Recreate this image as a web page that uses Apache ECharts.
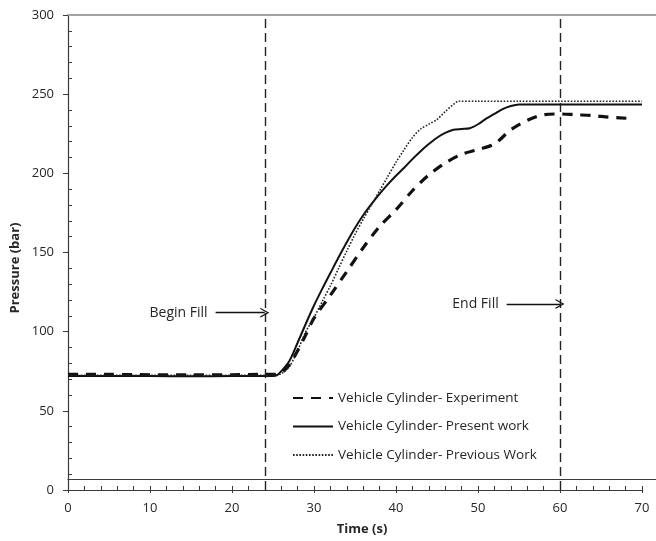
<!DOCTYPE html>
<html>
<head>
<meta charset="utf-8">
<script src="https://cdn.jsdelivr.net/npm/echarts@6/dist/echarts.min.js"></script>
<style>html,body{margin:0;padding:0;background:#fff}#c{width:656px;height:541px}</style>
</head>
<body>
<div id="c"></div>
<script>
// ---- data ----
const seriesNames = ['Vehicle Cylinder- Experiment', 'Vehicle Cylinder- Present work', 'Vehicle Cylinder- Previous Work'];
const expTime = [0,5,10,15,20,24,25,26,27,28,29,30,32,34,36,38,40,42,44,46,48,50,52,54,56,58,60,62,64,66,69];
const expPressure = [73,73,72.8,72.8,72.8,73,73,74,79,88,98,108.5,123,138,153,166.5,177,189,199,206.5,212,215,218.5,227.5,233.5,237,237.5,237,236.5,235.5,234.5];
const presentTime = [0,5,10,15,20,25,25.5,26,27,28,29,30,31,32,33,34,35,36,37,38,39,40,41,42,43,44,45,46,47,48,49,50,51,52,53,54,55,60,65,70];
const presentPressure = [72,72,72,71.8,72,72,72.5,75,81.5,93,105,116.5,127,137,147,156.5,165.5,173.5,180.5,187,193,198.5,203.5,209,214,218.5,222.5,225.5,227.5,228,228.5,231,234.5,237.5,240.5,242.5,243.5,243.5,243.5,243.5];
const previousTime = [0,5,10,15,20,25,26,27,28,29,30,31,32,33,34,35,36,37,38,39,40,41,42,43,44,45,46,47,47.6,50,55,60,65,70];
const previousPressure = [72.5,72.5,72.5,72.5,72.5,72.5,73.5,78,88,100,109,119,129,140,151,161.5,171,180,189,198,207,215,222.5,228,231,234,239,243.5,245.5,245.5,245.5,245.5,245.5,245.5];
const beginFillTime = 24;
const endFillTime = 60;
const beginArrow = { from: 18, to: 24, pressure: 112 };
const endArrow = { from: 53.5, to: 60, pressure: 117.5 };
const xTicks = { min: 0, max: 70, interval: 10 };
const yTicks = { min: 0, max: 300, interval: 50 };
const xAxisName = 'Time (s)';
const yAxisName = 'Pressure (bar)';
const beginLabel = 'Begin Fill';
const endLabel = 'End Fill';

// ---- chart ----
const font = '"Open Sans", "Liberation Sans", sans-serif';
const axisColor = '#3a3a3a';
const textColor = '#262626';
const zip = (a, b) => a.map((v, i) => [v, b[i]]);
const chevron = 'path://M5,0 L10,10 L8.6,10 L5,2.6 L1.4,10 L0,10 Z';

const chart = echarts.init(document.getElementById('c'), null, { renderer: 'canvas' });

function arrowLine(a, label) {
  return [
    { coord: [a.from, a.pressure],
      label: { show: true, formatter: label, position: 'start', distance: 8, color: textColor, fontSize: 14, fontFamily: font } },
    { coord: [a.to, a.pressure] }
  ];
}

chart.setOption({
  animation: false,
  backgroundColor: '#fff',
  grid: [
    { left: 68, right: 14, top: 15, bottom: 51 },
    { left: 68, right: 0, top: 15, bottom: 51 },
    { left: 68, right: 0, top: 46, bottom: 51 }
  ],
  xAxis: [
    {
      type: 'value', gridIndex: 0, position: 'bottom', min: xTicks.min, max: xTicks.max, interval: xTicks.interval,
      axisLine: { show: true, lineStyle: { color: axisColor, width: 1.2 } },
      axisTick: { show: true, inside: true, length: 4, lineStyle: { color: axisColor } },
      minorTick: { show: true, splitNumber: 5, length: 4, lineStyle: { color: axisColor } },
      axisLabel: { show: false }, splitLine: { show: false }
    },
    {
      type: 'value', gridIndex: 0, position: 'bottom', min: xTicks.min, max: xTicks.max, interval: xTicks.interval,
      axisLine: { show: false },
      axisTick: { show: true, inside: false, length: 3, lineStyle: { color: axisColor } },
      axisLabel: { show: true, margin: 12, color: textColor, fontSize: 13, fontFamily: font },
      splitLine: { show: false }
    },
    {
      type: 'value', gridIndex: 1, position: 'bottom', min: 0, max: 1,
      axisLine: { show: true, lineStyle: { color: axisColor, width: 1.2 } },
      axisTick: { show: false }, axisLabel: { show: false }, splitLine: { show: false },
      name: xAxisName, nameLocation: 'middle', nameGap: 38,
      nameTextStyle: { color: textColor, fontWeight: 'bold', fontSize: 13, fontFamily: font, padding: [6, 0, 0, 0] }
    },
    {
      type: 'value', gridIndex: 1, position: 'top', min: 0, max: 1,
      axisLine: { show: true, lineStyle: { color: '#a3a3a3', width: 2 } },
      axisTick: { show: false }, axisLabel: { show: false }, splitLine: { show: false }
    },
    { type: 'value', gridIndex: 2, show: false, min: 0, max: 1 }
  ],
  yAxis: [
    {
      type: 'value', gridIndex: 0, position: 'left', min: yTicks.min, max: yTicks.max, interval: yTicks.interval,
      axisLine: { show: true, lineStyle: { color: axisColor, width: 1.2 } },
      axisTick: { show: true, inside: false, length: 5, lineStyle: { color: axisColor } },
      axisLabel: { show: true, margin: 14, color: textColor, fontSize: 13, fontFamily: font },
      splitLine: { show: false }
    },
    {
      type: 'value', gridIndex: 0, position: 'left', min: yTicks.min, max: yTicks.max, interval: yTicks.interval,
      axisLine: { show: false },
      axisTick: { show: false, inside: true },
      minorTick: { show: true, splitNumber: 5, length: 4, lineStyle: { color: axisColor } },
      axisLabel: { show: false }, splitLine: { show: false }
    },
    { type: 'value', gridIndex: 1, show: false, min: 0, max: 1 },
    {
      type: 'value', gridIndex: 2, position: 'left', min: 0, max: 1,
      axisLine: { show: false }, axisTick: { show: false }, axisLabel: { show: false }, splitLine: { show: false },
      name: yAxisName, nameLocation: 'middle', nameGap: 46, nameRotate: 90,
      nameTextStyle: { color: textColor, fontWeight: 'bold', fontSize: 13, fontFamily: font }
    }
  ],
  legend: {
    orient: 'vertical', left: 287, top: 386,
    itemWidth: 40, itemHeight: 14, itemGap: 14.5,
    itemStyle: { opacity: 0, borderWidth: 0 },
    textStyle: { color: textColor, fontSize: 13.5, fontFamily: font },
    data: seriesNames
  },
  series: [
    {
      name: seriesNames[0], type: 'line', xAxisIndex: 0, yAxisIndex: 0, showSymbol: false, symbol: 'none', smooth: 0.3,
      data: zip(expTime, expPressure),
      lineStyle: { color: '#111', width: 3.2, type: [10, 8] },
      itemStyle: { color: '#111' },
      markLine: {
        silent: true, symbol: ['none', 'none'],
        lineStyle: { color: '#222', width: 1.4, type: [9, 5] },
        label: { show: false },
        data: [{ xAxis: beginFillTime }, { xAxis: endFillTime }]
      }
    },
    {
      name: seriesNames[1], type: 'line', xAxisIndex: 0, yAxisIndex: 0, showSymbol: false, symbol: 'none', smooth: 0.3,
      data: zip(presentTime, presentPressure),
      lineStyle: { color: '#111', width: 2 },
      itemStyle: { color: '#111' },
      markLine: {
        silent: true, symbol: ['none', chevron], symbolSize: [10, 9],
        lineStyle: { color: '#111', width: 1.3, type: 'solid' },
        data: [arrowLine(beginArrow, beginLabel), arrowLine(endArrow, endLabel)]
      }
    },
    {
      name: seriesNames[2], type: 'line', xAxisIndex: 0, yAxisIndex: 0, showSymbol: false, symbol: 'none', smooth: 0.3,
      data: zip(previousTime, previousPressure),
      lineStyle: { color: '#222', width: 1.6, type: [1.6, 1.6] },
      itemStyle: { color: '#222' }
    }
  ]
});
</script>
</body>
</html>
